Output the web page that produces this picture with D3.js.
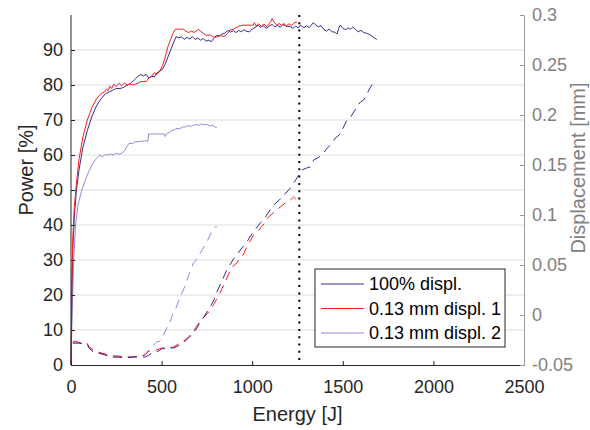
<!DOCTYPE html>
<meta charset="utf-8">
<script src="https://d3js.org/d3.v7.min.js"></script>
<style>
  body { margin: 0; background: #fff; }
  text { font-family: "Liberation Sans", Arial, sans-serif; }
</style>
<div id="chart"></div>
<script>

// ---- data (energy [J], value) ----
const seriesNames = ["100% displ.", "0.13 mm displ. 1", "0.13 mm displ. 2"];

const power100 = [[0,0],[5,20],[10,33],[18,42],[30,50],[45,56],[65,62],[90,67],[115,71],[140,74],[165,76],[190,77.5],[210,78],[230,78.5],[250,79],[270,79],[290,79.3],[310,80],[330,80.5],[350,81.5],[370,82.5],[385,83],[400,82.6],[415,83],[430,82],[445,82.5],[460,82.3],[475,83.5],[490,84],[505,84.5],[520,86],[535,88],[550,90],[565,92],[580,93.8],[595,93.5],[610,93.8],[625,93],[640,93.6],[655,93.2],[670,93.8],[685,93],[700,93.4],[715,92.8],[730,93.3],[745,92.5],[760,92.8],[775,92.4],[790,93.5],[805,94.2],[820,94],[835,94.6],[850,94.8],[865,95.6],[880,95.1],[895,95.5],[910,95],[925,95.6],[940,95.2],[955,95.8],[970,95.3],[985,95.2],[1000,96],[1015,96.4],[1033,97.1],[1045,96.5],[1060,96.9],[1081,96.2],[1095,96.9],[1110,97.3],[1125,96.6],[1140,97],[1155,96.5],[1170,97.3],[1185,96.8],[1210,96.7],[1225,96.2],[1240,96.8],[1255,96.3],[1265,97.1],[1285,96.4],[1300,96.9],[1315,96.4],[1337,97.8],[1350,97.2],[1365,96.6],[1380,97],[1395,95.9],[1410,95.4],[1425,96],[1440,95.2],[1455,95.1],[1468,94.6],[1478,96.2],[1486,97.1],[1500,96.2],[1515,95.8],[1530,96.3],[1541,95.9],[1555,96.5],[1570,95.9],[1585,95.2],[1600,95.6],[1615,95],[1630,94.8],[1645,94.5],[1660,94],[1675,93.4],[1688,93]];

const power013a = [[0,0],[4,22],[10,36],[18,45],[30,52],[45,59],[65,65],[90,70],[115,73.5],[140,76],[165,77.5],[185,78],[195,78.8],[205,78.4],[215,79.7],[225,79],[235,80.2],[250,79.6],[265,80.5],[280,79.8],[295,80.6],[310,80],[325,80.3],[340,80],[355,80.2],[370,80.5],[385,81],[400,81],[415,81],[430,82],[445,82.5],[460,83.5],[475,83],[490,84],[505,85.5],[520,88],[535,91],[550,93],[565,95],[575,95.9],[590,96],[605,95.9],[620,96],[635,95.3],[650,95],[665,95.4],[680,95],[695,95.6],[705,95.9],[715,95.3],[730,94.8],[745,94.2],[768,94.3],[780,93.9],[795,93.6],[810,93.8],[825,94.2],[840,93.8],[855,94.2],[865,94.8],[878,95.7],[895,95.9],[910,96.3],[925,96.8],[950,97.1],[975,97.1],[1006,97.1],[1012,97.8],[1022,96.9],[1035,97.5],[1050,96.8],[1065,97.4],[1081,96.7],[1095,97.6],[1105,98.3],[1110,99],[1120,98],[1136,97.1],[1150,97.6],[1162,97],[1173,97.6],[1188,96.9],[1203,97.5],[1218,97],[1233,97.8],[1247,98]];

const power013b = [[0,0],[8,18],[15,30],[25,40],[40,46],[60,50],[80,53],[100,55.5],[120,57.5],[140,59],[160,60],[175,59.5],[190,60.2],[205,60],[220,60.3],[235,60],[250,60.5],[265,60.2],[280,60.5],[295,61.2],[310,62.5],[320,63.3],[340,63.3],[355,63.8],[370,63.8],[400,64],[425,64],[428,66],[450,66],[475,66],[500,66],[515,66],[520,65.3],[530,66.2],[545,66.5],[555,67],[570,67.2],[585,67.6],[600,67.5],[615,68],[630,68],[645,68.4],[660,68.2],[675,68.5],[690,68.7],[705,68.5],[720,68.9],[735,68.6],[750,68.8],[765,68.3],[780,68.5],[795,68],[805,67.9]];

const displ100 = [[10,-0.028],[40,-0.028],[88,-0.029],[100,-0.033],[116,-0.036],[150,-0.038],[188,-0.040],[215,-0.042],[260,-0.042],[300,-0.043],[340,-0.042],[380,-0.042],[409,-0.042],[430,-0.040],[450,-0.038],[473,-0.037],[500,-0.034],[529,-0.033],[565,-0.033],[602,-0.030],[630,-0.026],[655,-0.022],[676,-0.018],[695,-0.013],[713,-0.007],[740,0.000],[760,0.006],[786,0.014],[810,0.025],[830,0.033],[860,0.045],[897,0.056],[915,0.060],[934,0.065],[971,0.073],[990,0.079],[1007,0.083],[1044,0.092],[1062,0.095],[1080,0.100],[1109,0.108],[1130,0.112],[1150,0.115],[1173,0.120],[1192,0.123],[1215,0.128],[1240,0.135],[1275,0.145],[1300,0.147],[1320,0.148],[1339,0.155],[1360,0.157],[1385,0.160],[1410,0.166],[1431,0.170],[1459,0.177],[1480,0.180],[1496,0.185],[1523,0.195],[1540,0.197],[1560,0.203],[1597,0.213],[1615,0.215],[1630,0.220],[1650,0.227],[1667,0.232],[1680,0.233]];

const displ013a = [[10,-0.027],[25,-0.026],[50,-0.028],[88,-0.028],[100,-0.032],[116,-0.034],[150,-0.037],[188,-0.039],[215,-0.041],[260,-0.041],[300,-0.042],[340,-0.042],[380,-0.041],[409,-0.040],[430,-0.036],[450,-0.036],[473,-0.035],[500,-0.033],[529,-0.033],[565,-0.032],[602,-0.028],[630,-0.025],[655,-0.021],[676,-0.016],[695,-0.011],[713,-0.006],[740,-0.001],[760,0.003],[786,0.010],[810,0.018],[830,0.025],[860,0.037],[888,0.048],[910,0.051],[934,0.057],[950,0.060],[970,0.068],[1007,0.080],[1030,0.083],[1050,0.088],[1070,0.092],[1090,0.098],[1110,0.101],[1125,0.104],[1155,0.108],[1182,0.112],[1200,0.113],[1228,0.118],[1240,0.116]];

const displ013b = [[10,-0.028],[50,-0.028],[90,-0.029],[100,-0.033],[116,-0.036],[150,-0.038],[188,-0.039],[215,-0.042],[260,-0.042],[300,-0.042],[340,-0.042],[380,-0.042],[400,-0.040],[418,-0.037],[445,-0.032],[473,-0.027],[492,-0.026],[510,-0.020],[529,-0.013],[545,-0.008],[565,0.003],[575,0.005],[602,0.018],[620,0.025],[640,0.035],[660,0.045],[676,0.052],[695,0.056],[713,0.062],[740,0.070],[760,0.077],[780,0.085],[795,0.088],[805,0.088]];

const markerEnergy = 1260;

const xTicks = [0, 500, 1000, 1500, 2000, 2500];
const leftTicks = [0, 10, 20, 30, 40, 50, 60, 70, 80, 90];
const rightTicks = [-0.05, 0, 0.05, 0.1, 0.15, 0.2, 0.25, 0.3];
const rightTickLabels = ["-0.05", "0", "0.05", "0.1", "0.15", "0.2", "0.25", "0.3"];

// ---- layout ----
const W = 590, H = 430;
const margin = { top: 15, right: 66, bottom: 65, left: 71 };
const width = W - margin.left - margin.right,
      height = H - margin.top - margin.bottom;

const colors = ["#33308f", "#ff1a1a", "#9a87db"];

const svg = d3.select("#chart").append("svg")
  .attr("width", W).attr("height", H)
  .style("background", "#fff");

const g = svg.append("g")
  .attr("transform", `translate(${margin.left},${margin.top})`);

const x = d3.scaleLinear().domain([0, 2500]).range([0, width]);
const yL = d3.scaleLinear().domain([0, 100]).range([height, 0]);
const yR = d3.scaleLinear().domain([-0.05, 0.3]).range([height, 0]);

// grid
g.append("g")
  .selectAll("line")
  .data(leftTicks.filter(d => d > 0))
  .join("line")
  .attr("x1", 0).attr("x2", width)
  .attr("y1", d => yL(d)).attr("y2", d => yL(d))
  .attr("stroke", "#dedede").attr("stroke-width", 1);

// lines
const lineL = d3.line().x(d => x(d[0])).y(d => yL(d[1]));
const lineR = d3.line().x(d => x(d[0])).y(d => yR(d[1]));

[displ013b, displ013a, displ100].forEach((s, i) => {
  g.append("path")
    .datum(s)
    .attr("fill", "none")
    .attr("stroke", colors[2 - i])
    .attr("stroke-width", 1)
    .attr("stroke-dasharray", "9,6")
    .attr("d", lineR);
});

[power013b, power100, power013a].forEach((s, i) => {
  g.append("path")
    .datum(s)
    .attr("fill", "none")
    .attr("stroke", [colors[2], colors[0], colors[1]][i])
    .attr("stroke-width", 1)
    .attr("d", lineL);
});

// vertical marker
g.append("line")
  .attr("x1", x(markerEnergy)).attr("x2", x(markerEnergy))
  .attr("y1", 0).attr("y2", height)
  .attr("stroke", "#000").attr("stroke-width", 2)
  .attr("stroke-dasharray", "2,5.3");

// axes
const fontSize = 18;
const gx = g.append("g")
  .attr("transform", `translate(0,${height})`)
  .call(d3.axisBottom(x).tickValues(xTicks).tickFormat(d3.format("d"))
    .tickSize(-4).tickSizeOuter(0).tickPadding(15));
gx.selectAll("path, line").attr("stroke", "#262626");
gx.selectAll("text").attr("fill", "#262626").style("font-size", fontSize + "px");

const gl = g.append("g")
  .call(d3.axisLeft(yL).tickValues(leftTicks).tickSize(-4).tickSizeOuter(0).tickPadding(8));
gl.select(".domain").attr("d", `M0,${height}V0`);
gl.selectAll("path, line").attr("stroke", "#262626");
gl.selectAll("text").attr("fill", "#262626").style("font-size", fontSize + "px");

const gr = g.append("g")
  .attr("transform", `translate(${width},0)`)
  .call(d3.axisRight(yR).tickValues(rightTicks).tickSize(-4).tickSizeOuter(0).tickPadding(8)
    .tickFormat((d, i) => rightTickLabels[i]));
gr.selectAll("path, line").attr("stroke", "#999");
gr.selectAll("text").attr("fill", "#808080").style("font-size", fontSize + "px");

// axis titles
svg.append("text")
  .attr("x", margin.left + width / 2).attr("y", 421)
  .attr("text-anchor", "middle")
  .attr("fill", "#262626")
  .style("font-size", "20px")
  .text("Energy [J]");

svg.append("text")
  .attr("transform", "translate(33,170) rotate(-90)")
  .attr("text-anchor", "middle")
  .attr("fill", "#262626")
  .style("font-size", "20px")
  .text("Power [%]");

svg.append("text")
  .attr("transform", "translate(585,168) rotate(-90)")
  .attr("text-anchor", "middle")
  .attr("fill", "#808080")
  .style("font-size", "20px")
  .text("Displacement [mm]");

// legend
const lg = svg.append("g").attr("transform", "translate(315,269)");
lg.append("rect")
  .attr("width", 190).attr("height", 78)
  .attr("fill", "#fff").attr("stroke", "#262626").attr("stroke-width", 1);
seriesNames.forEach((name, i) => {
  const yy = 15 + i * 24.5;
  lg.append("line")
    .attr("x1", 6).attr("x2", 49).attr("y1", yy).attr("y2", yy)
    .attr("stroke", colors[i]).attr("stroke-width", 1);
  lg.append("text")
    .attr("x", 54).attr("y", yy).attr("dy", "0.35em")
    .attr("fill", "#000")
    .style("font-size", "18px")
    .text(name);
});
</script>
